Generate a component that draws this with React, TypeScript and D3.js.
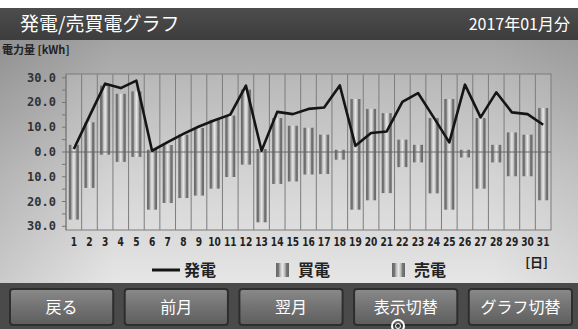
import * as d3 from "d3"

const DAYS = d3.range(1, 32).map(String)
// 発電 (generation) per day, kWh
const GEN = [1.2, 14.5, 27.6, 25.8, 28.8, 0.5, 4.0, 7.3, 10.3, 12.8, 15.1, 26.8, 0.5, 16.2, 15.3, 17.4, 18.0, 26.9, 2.5, 7.7, 8.3, 20.2, 23.8, 14.0, 3.9, 27.2, 14.0, 24.1, 16.0, 15.3, 11.0]
// 売電 (sold, drawn above zero)
const SELL = [2.9, 12.0, 26.8, 23.5, 24.5, 0.9, 2.8, 7.0, 9.7, 13.0, 14.7, 25.2, 1.2, 13.7, 10.6, 9.8, 7.0, 0.9, 21.4, 17.4, 15.7, 5.0, 2.9, 13.7, 21.4, 0.9, 13.7, 2.9, 7.9, 7.0, 17.8]
// 買電 (bought, drawn below zero)
const BUY = [27.3, 14.5, 1.1, 4.0, 2.0, 23.3, 20.6, 18.6, 17.6, 14.8, 10.1, 5.1, 28.4, 12.9, 11.9, 9.1, 8.9, 3.1, 23.3, 19.5, 16.6, 6.1, 4.2, 16.7, 23.3, 2.2, 14.8, 4.2, 9.8, 9.8, 19.5]
const Y_LABELS = [30, 20, 10, 0, -10, -20, -30]
const BUTTONS = ["戻る", "前月", "翌月", "表示切替", "グラフ切替"]

const W = 578
const H = 329
const JP = "'Noto Sans CJK JP', sans-serif"

export default function App() {
  const x = d3.scaleBand().domain(DAYS).range([66, 551]).padding(0)
  const y = d3.scaleLinear().domain([-31.5, 31.5]).range([230, 74])
  const bw = x.bandwidth() * 0.64
  const cx = (i: number) => (x(DAYS[i]) as number) + x.bandwidth() / 2

  const line = d3
    .line<number>()
    .x((_, i) => cx(i))
    .y((d) => y(d))

  const bx = d3.scaleBand().domain(BUTTONS).range([10, 572]).paddingInner(0.1)

  return (
    <svg width={W} height={H} style={{ position: "absolute", left: 0, top: 0 }}>
      <defs>
        <linearGradient id="bg" x1="0" y1="0" x2="0" y2="1">
          <stop offset="0" stopColor="#a4a4a4" />
          <stop offset="0.55" stopColor="#cdcdcd" />
          <stop offset="1" stopColor="#e6e6e6" />
        </linearGradient>
        <linearGradient id="side" x1="0" y1="0" x2="1" y2="0">
          <stop offset="0" stopColor="#000" stopOpacity="0.12" />
          <stop offset="0.2" stopColor="#000" stopOpacity="0" />
          <stop offset="0.85" stopColor="#000" stopOpacity="0" />
          <stop offset="1" stopColor="#000" stopOpacity="0.06" />
        </linearGradient>
        <linearGradient id="head" x1="0" y1="0" x2="0" y2="1">
          <stop offset="0" stopColor="#4d4d4d" />
          <stop offset="1" stopColor="#3d3d3d" />
        </linearGradient>
        <linearGradient id="bar" x1="0" y1="0" x2="1" y2="0">
          <stop offset="0" stopColor="#666" />
          <stop offset="0.2" stopColor="#777" />
          <stop offset="0.3" stopColor="#b5b5b5" />
          <stop offset="0.5" stopColor="#e8e8e8" />
          <stop offset="0.7" stopColor="#b5b5b5" />
          <stop offset="0.8" stopColor="#777" />
          <stop offset="1" stopColor="#666" />
        </linearGradient>
        <linearGradient id="btn" x1="0" y1="0" x2="0" y2="1">
          <stop offset="0" stopColor="#8a8a8a" />
          <stop offset="0.5" stopColor="#727272" />
          <stop offset="1" stopColor="#5e5e5e" />
        </linearGradient>
      </defs>

      <rect x={0} y={0} width={W} height={H} fill="#fff" />
      <rect x={0} y={40} width={W} height={244} fill="url(#bg)" />
      <rect x={0} y={40} width={W} height={244} fill="url(#side)" />

      {/* header */}
      <rect x={0} y={8} width={W} height={32} fill="url(#head)" />
      <text x={20} y={31} fill="#fff" fontSize={19} fontFamily={JP}>
        発電/売買電グラフ
      </text>
      <text x={570} y={30} fill="#fff" fontSize={16} fontFamily={JP} textAnchor="end">
        2017年01月分
      </text>

      <text x={2} y={54} fill="#222" fontSize={11} fontWeight="bold" fontFamily={JP}>
        電力量 [kWh]
      </text>

      {/* plot */}
      <rect x={66} y={74} width={485} height={156} fill="#fff" fillOpacity={0.12} />
      {DAYS.map((d) => (
        <line key={d} x1={x(d)} x2={x(d)} y1={74} y2={230} stroke="#7d7d7d" strokeWidth={1} />
      ))}
      <rect x={66} y={74} width={485} height={156} fill="none" stroke="#7d7d7d" strokeWidth={1} />
      {d3.range(-30, 31, 5).map((v) => (
        <line key={v} x1={62} x2={66} y1={y(v)} y2={y(v)} stroke="#777" />
      ))}

      {SELL.map((v, i) => (
        <rect key={"s" + i} x={cx(i) - bw / 2} y={y(v)} width={bw} height={y(0) - y(v)} fill="url(#bar)" />
      ))}
      {BUY.map((v, i) => (
        <rect key={"b" + i} x={cx(i) - bw / 2} y={y(0)} width={bw} height={y(-v) - y(0)} fill="url(#bar)" />
      ))}
      <line x1={66} x2={551} y1={y(0)} y2={y(0)} stroke="#666" strokeWidth={1.2} />

      <path d={line(GEN) as string} fill="none" stroke="#151515" strokeWidth={2.6} strokeLinejoin="round" />

      {Y_LABELS.map((v) => (
        <text
          key={v}
          x={56}
          y={y(v) + 4}
          textAnchor="end"
          fontSize={12}
          fontWeight="bold"
          fontFamily="'DejaVu Sans Mono', monospace"
          fill="#333"
        >
          {Math.abs(v).toFixed(1)}
        </text>
      ))}
      {DAYS.map((d, i) => (
        <text
          key={d}
          transform={`translate(${cx(i)},246) scale(0.7,1)`}
          textAnchor="middle"
          fontSize={13}
          fontWeight="bold"
          fontFamily="'DejaVu Sans', sans-serif"
          fill="#222"
        >
          {d}
        </text>
      ))}

      {/* legend */}
      <line x1={152} x2={180} y1={270} y2={270} stroke="#151515" strokeWidth={3} />
      <text x={184} y={276} fontSize={16} fontWeight="bold" fontFamily={JP} fill="#222">
        発電
      </text>
      <rect x={276} y={263} width={13} height={14} fill="url(#bar)" />
      <text x={298} y={276} fontSize={16} fontWeight="bold" fontFamily={JP} fill="#222">
        買電
      </text>
      <rect x={392} y={263} width={13} height={14} fill="url(#bar)" />
      <text x={414} y={276} fontSize={16} fontWeight="bold" fontFamily={JP} fill="#222">
        売電
      </text>
      <text x={548} y={267} textAnchor="end" fontSize={13} fontWeight="bold" fontFamily={JP} fill="#222">
        [日]
      </text>

      {/* buttons */}
      <rect x={0} y={283} width={W} height={46} fill="#4a4a4a" />
      {BUTTONS.map((b) => (
        <g key={b}>
          <rect
            x={bx(b)}
            y={289}
            width={bx.bandwidth()}
            height={36}
            rx={3}
            fill="url(#btn)"
            stroke="#2e2e2e"
            strokeWidth={2}
          />
          <text
            x={(bx(b) as number) + bx.bandwidth() / 2}
            y={313}
            textAnchor="middle"
            fontSize={16}
            fontFamily={JP}
            fill="#fff"
          >
            {b}
          </text>
        </g>
      ))}
      <circle cx={398} cy={326} r={6} fill="none" stroke="#fff" strokeWidth={2} />
      <circle cx={398} cy={326} r={2.5} fill="none" stroke="#fff" strokeWidth={1} />
    </svg>
  )
}
